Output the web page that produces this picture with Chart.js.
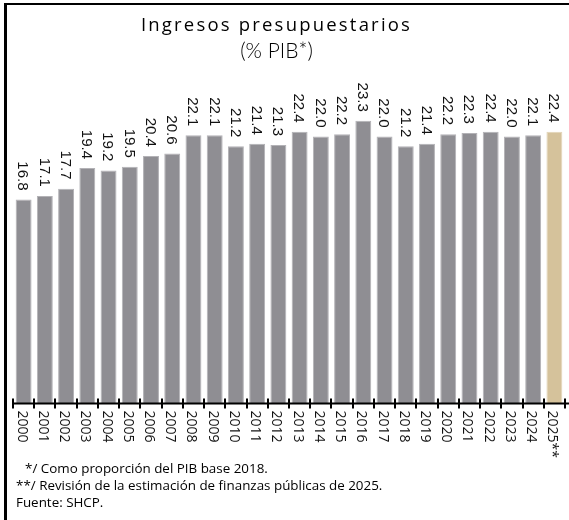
<!DOCTYPE html>
<html>
<head>
<meta charset="utf-8">
<script src="https://cdn.jsdelivr.net/npm/chart.js@4/dist/chart.umd.min.js"></script>
<style>
    html, body { margin: 0; padding: 0; background: #fff; }
    #wrap { position: relative; width: 569px; height: 520px; overflow: hidden; }
    #frame { position: absolute; left: 4px; top: 3px; width: 570px; height: 530px;
        border-top: 2px solid #000; border-left: 3px solid #000; box-sizing: border-box; }
    #chart { position: absolute; left: 0; top: 0; }
    .title { position: absolute; left: 0; width: 553px; text-align: center; color: #000; }
    #t1 { top: 11px; font: 400 18.5px "Open Sans", sans-serif; letter-spacing: 2.2px; }
    #t2 { top: 37px; font: 300 21px "Lato", sans-serif; }
    .note { position: absolute; font: 400 13.4px "Open Sans", sans-serif; color: #000; white-space: nowrap; }
</style>
</head>
<body>
<div id="wrap">
    <canvas id="chart" width="569" height="520"></canvas>
    <div id="frame"></div>
    <div class="title" id="t1">Ingresos presupuestarios</div>
    <div class="title" id="t2">(% PIB*)</div>
    <div class="note" style="left:25px; top:459px;">*/ Como proporción del PIB base 2018.</div>
    <div class="note" style="left:16px; top:476px;">**/ Revisión de la estimación de finanzas públicas de 2025.</div>
    <div class="note" style="left:16px; top:493px;">Fuente: SHCP.</div>
</div>
<script>
const years = ["2000", "2001", "2002", "2003", "2004", "2005", "2006", "2007", "2008", "2009",
    "2010", "2011", "2012", "2013", "2014", "2015", "2016", "2017", "2018", "2019",
    "2020", "2021", "2022", "2023", "2024", "2025**"];
const ingresos = [16.8, 17.1, 17.7, 19.4, 19.2, 19.5, 20.4, 20.6, 22.1, 22.1,
    21.2, 21.4, 21.3, 22.4, 22.0, 22.2, 23.3, 22.0, 21.2, 21.4,
    22.2, 22.3, 22.4, 22.0, 22.1, 22.4];

const GRAY = "#8f8e93";
const TAN = "#d5c29b";

// axis, ticks and rotated labels drawn by hand (text reads top-to-bottom)
const labelsPlugin = {
    id: "labels",
    afterDatasetsDraw(chart) {
        const { ctx, scales: { x, y } } = chart;
        const base = y.getPixelForValue(0) + 0.5;
        const step = x.getPixelForValue(1) - x.getPixelForValue(0);
        ctx.save();
        ctx.strokeStyle = "#000";
        ctx.lineWidth = 2;
        ctx.beginPath();
        ctx.moveTo(x.left - 1, base);
        ctx.lineTo(chart.width, base);
        for (let i = 0; i <= years.length; i++) {
            const px = Math.round(x.getPixelForValue(i) - step / 2);
            ctx.moveTo(px, base - 5);
            ctx.lineTo(px, base + 5);
        }
        ctx.stroke();

        ctx.fillStyle = "#111";
        ctx.textBaseline = "middle";
        years.forEach((yr, i) => {
            const cx = x.getPixelForValue(i);
            ctx.save();
            ctx.translate(cx - 2, base + 7);
            ctx.rotate(Math.PI / 2);
            ctx.font = "14px 'Open Sans'";
            ctx.textAlign = "left";
            ctx.fillText(yr, 0, 0);
            ctx.restore();

            const top = y.getPixelForValue(ingresos[i]);
            ctx.save();
            ctx.translate(cx - 1, top - 9);
            ctx.rotate(Math.PI / 2);
            ctx.font = "15px 'Liberation Sans'";
            ctx.textAlign = "right";
            ctx.fillText(ingresos[i].toFixed(1), 0, 0);
            ctx.restore();
        });
        ctx.restore();
    }
};

new Chart(document.getElementById("chart"), {
    type: "bar",
    data: {
        labels: years,
        datasets: [{
            data: ingresos,
            backgroundColor: years.map((_, i) => i === years.length - 1 ? TAN : GRAY),
            borderColor: years.map((_, i) => i === years.length - 1 ? "#e2d4b6" : "#b3b2b6"),
            borderWidth: { top: 1, left: 1, right: 1, bottom: 0 },
            borderSkipped: "bottom",
            barPercentage: 0.75,
            categoryPercentage: 1
        }]
    },
    options: {
        responsive: false,
        animation: false,
        layout: { padding: { left: 13, right: 4, top: 76, bottom: 117 } },
        plugins: {
            legend: { display: false },
            tooltip: { enabled: false }
        },
        scales: {
            x: { display: false },
            y: { display: false, min: 0, max: 27 }
        }
    },
    plugins: [labelsPlugin]
});
</script>
</body>
</html>
